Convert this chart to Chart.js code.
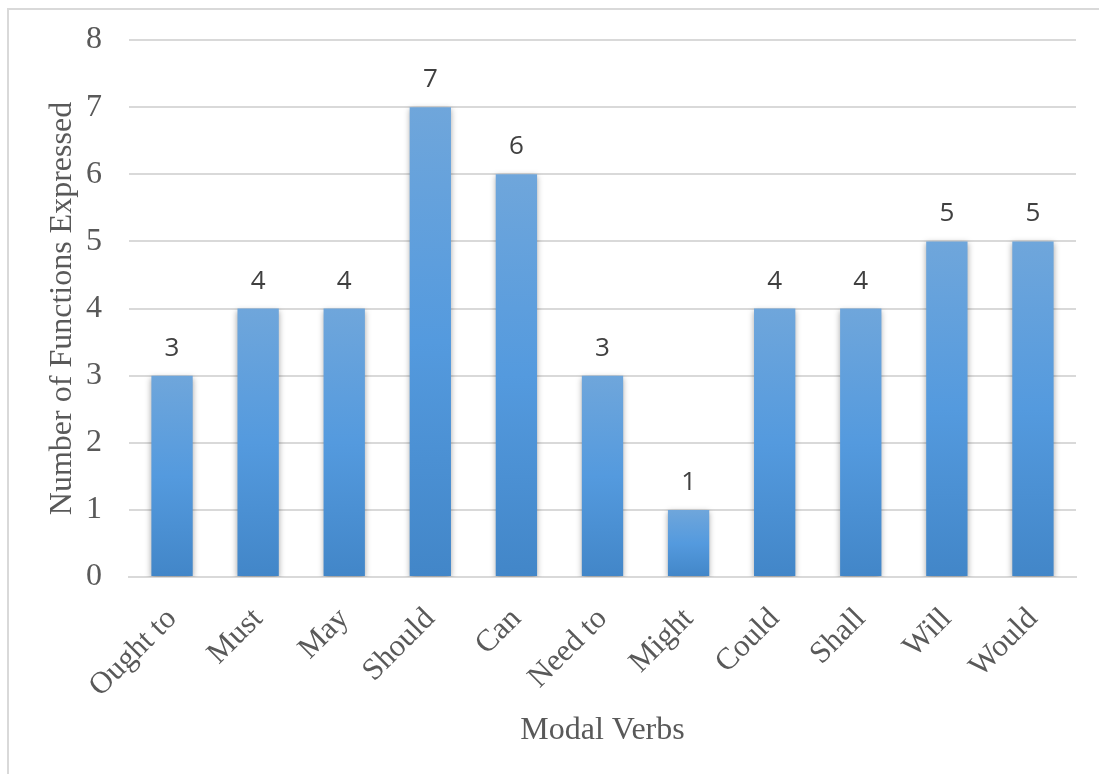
<!DOCTYPE html>
<html>
<head>
<meta charset="utf-8">
<script src="https://cdn.jsdelivr.net/npm/chart.js@4/dist/chart.umd.min.js"></script>
<style>
  html, body { margin: 0; padding: 0; background: #fff; }
  #wrap { position: relative; width: 1099px; height: 774px; overflow: hidden; }
  #frame { position: absolute; left: 7px; top: 8px; width: 1100px; height: 800px; border-left: 2px solid #d9d9d9; border-top: 2px solid #d9d9d9; pointer-events: none; }
  canvas { display: block; }
</style>
</head>
<body>
<div id="wrap">
  <canvas id="c" width="1099" height="774"></canvas>
  <div id="frame"></div>
</div>
<script>
const categories = ["Ought to", "Must", "May", "Should", "Can", "Need to", "Might", "Could", "Shall", "Will", "Would"];
const functionCounts = [3, 4, 4, 7, 6, 3, 1, 4, 4, 5, 5];
const yTicks = [0, 1, 2, 3, 4, 5, 6, 7, 8];
const xTitle = "Modal Verbs";
const yTitle = "Number of Functions Expressed";

const serif = "'Liberation Serif', 'Times New Roman', serif";
const sans = "'Open Sans', 'Liberation Sans', sans-serif";

function barGradient(ctx) {
  const chart = ctx.chart;
  const area = chart.chartArea;
  if (!area || ctx.type !== 'data') return '#5b9bd5';
  const y = chart.scales.y;
  const top = y.getPixelForValue(ctx.raw);
  const bottom = y.getPixelForValue(0);
  const g = chart.ctx.createLinearGradient(0, top, 0, bottom);
  g.addColorStop(0, '#6fa6db');
  g.addColorStop(0.5, '#549ade');
  g.addColorStop(1, '#4286c8');
  return g;
}

const shadowPlugin = {
  id: 'barShadow',
  beforeDatasetsDraw(chart) {
    const c = chart.ctx;
    c.save();
    c.shadowColor = 'rgba(0,0,0,0.35)';
    c.shadowBlur = 6;
    c.shadowOffsetX = 0;
    c.shadowOffsetY = 2;
  },
  afterDatasetsDraw(chart) {
    chart.ctx.restore();
  }
};

const labelPlugin = {
  id: 'valueLabels',
  afterDatasetsDraw(chart) {
    const c = chart.ctx;
    const meta = chart.getDatasetMeta(0);
    c.save();
    c.font = "26px " + sans;
    c.fillStyle = '#404040';
    c.textAlign = 'center';
    c.textBaseline = 'alphabetic';
    meta.data.forEach((bar, i) => {
      c.fillText(String(functionCounts[i]), bar.x, bar.y - 20);
    });
    c.restore();
  }
};

new Chart(document.getElementById('c'), {
  type: 'bar',
  data: {
    labels: categories,
    datasets: [{
      data: functionCounts,
      backgroundColor: barGradient,
      borderWidth: 0,
      barPercentage: 0.48,
      categoryPercentage: 1.0
    }]
  },
  options: {
    responsive: false,
    animation: false,
    devicePixelRatio: 1,
    layout: { padding: { left: 43, right: 23, top: 40, bottom: 24 } },
    plugins: {
      legend: { display: false },
      tooltip: { enabled: false }
    },
    scales: {
      x: {
        afterFit(scale) { scale.paddingLeft = 0; scale.paddingRight = 0; scale.height = 173; },
        grid: { display: false, drawTicks: false },
        border: { display: true, color: '#d9d9d9', width: 2 },
        ticks: {
          minRotation: 45, maxRotation: 45,
          font: { family: serif, size: 31 },
          color: '#595959',
          padding: 24
        },
        title: {
          display: true, text: xTitle,
          font: { family: serif, size: 32 },
          color: '#595959',
          padding: { top: 6, bottom: 0 }
        }
      },
      y: {
        min: 0, max: 8,
        afterBuildTicks(scale) { scale.ticks = yTicks.map(v => ({ value: v })); },
        afterFit(scale) { scale.width = 86; scale.paddingTop = 0; scale.paddingBottom = 0; },
        grid: { color: '#d9d9d9', lineWidth: 2, drawTicks: false },
        border: { display: false },
        ticks: {
          font: { family: serif, size: 32 },
          color: '#595959',
          padding: 27
        },
        title: {
          display: true, text: yTitle,
          font: { family: serif, size: 32 },
          color: '#595959',
          padding: { top: 0, bottom: 4 }
        }
      }
    }
  },
  plugins: [shadowPlugin, labelPlugin]
});
</script>
</body>
</html>
